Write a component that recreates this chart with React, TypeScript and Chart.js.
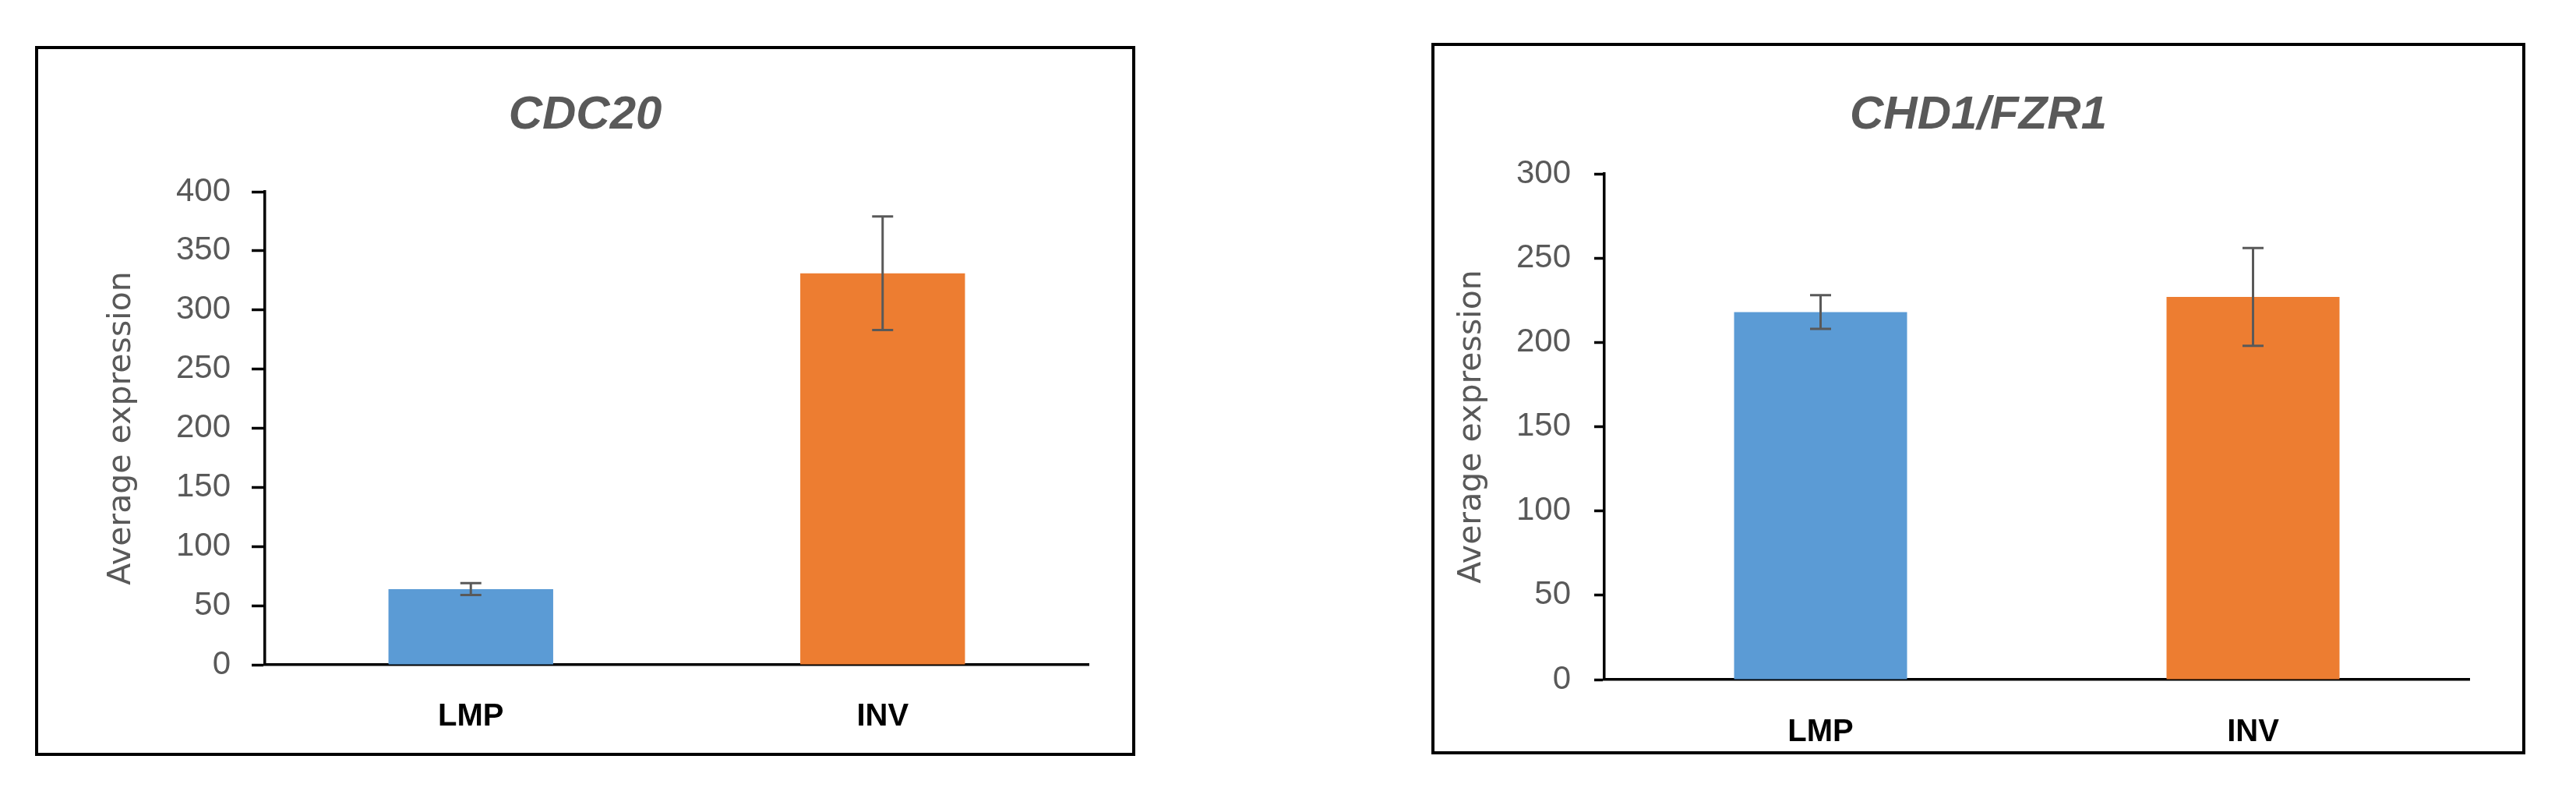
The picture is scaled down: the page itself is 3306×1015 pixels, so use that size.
import React, { useEffect, useRef } from "react";
import { Chart, registerables } from "chart.js";

Chart.register(...registerables);

// ---- data ----
const categories = ["LMP", "INV"];
const cdc20Values = [64, 331];
const cdc20Errors = [5, 48];
const fzr1Values = [218, 227];
const fzr1Errors = [10, 29];
const cdc20Axis = { min: 0, max: 400, step: 50 };
const fzr1Axis = { min: 0, max: 300, step: 50 };
const barColors = ["#5B9BD5", "#ED7D31"];
const yAxisTitle = "Average expression";

type Panel = {
  title: string;
  values: number[];
  errors: number[];
  axis: { min: number; max: number; step: number };
  box: { left: number; top: number; width: number; height: number };
  area: { left: number; top: number; right: number; bottom: number };
  titleBaseline: number;
  yTitlePad: number;
  tickLen: number;
  tickPad: number;
  xLabelPad: number;
};

const BORDER = 4;

const panels: Panel[] = [
  {
    title: "CDC20",
    values: cdc20Values,
    errors: cdc20Errors,
    axis: cdc20Axis,
    box: { left: 45, top: 59, width: 1412, height: 911 },
    area: { left: 291, top: 183, right: 1348, bottom: 790 },
    titleBaseline: 102,
    yTitlePad: 83,
    tickLen: 17,
    tickPad: 27,
    xLabelPad: 35,
  },
  {
    title: "CHD1/FZR1",
    values: fzr1Values,
    errors: fzr1Errors,
    axis: fzr1Axis,
    box: { left: 1837, top: 55, width: 1404, height: 913 },
    area: { left: 218, top: 164, right: 1328, bottom: 813 },
    titleBaseline: 106,
    yTitlePad: 24,
    tickLen: 13,
    tickPad: 30,
    xLabelPad: 36,
  },
];

const errorBarPlugin = {
  id: "errorBars",
  afterDatasetsDraw(chart: any, _args: any, opts: any) {
    const { ctx } = chart;
    const yScale = chart.scales.y;
    chart.data.datasets.forEach((ds: any, di: number) => {
      const meta = chart.getDatasetMeta(di);
      meta.data.forEach((bar: any, i: number) => {
        const v = ds.data[i];
        const e = opts.errors[i];
        const x = bar.x;
        const top = yScale.getPixelForValue(v + e);
        const bot = yScale.getPixelForValue(v - e);
        const half = opts.cap / 2;
        ctx.save();
        ctx.strokeStyle = opts.color;
        ctx.lineWidth = opts.width;
        ctx.beginPath();
        ctx.moveTo(x, top);
        ctx.lineTo(x, bot);
        ctx.moveTo(x - half, top);
        ctx.lineTo(x + half, top);
        ctx.moveTo(x - half, bot);
        ctx.lineTo(x + half, bot);
        ctx.stroke();
        ctx.restore();
      });
    });
  },
};

const boxTitlePlugin = {
  id: "boxTitle",
  afterDraw(chart: any, _args: any, opts: any) {
    const { ctx } = chart;
    ctx.save();
    ctx.font = opts.font;
    ctx.fillStyle = opts.color;
    ctx.textAlign = "center";
    ctx.textBaseline = "alphabetic";
    ctx.fillText(opts.text, chart.width / 2, opts.baseline);
    ctx.restore();
  },
};

function BarPanel({ p }: { p: Panel }) {
  const ref = useRef<HTMLCanvasElement | null>(null);
  const W = p.box.width - 2 * BORDER;
  const H = p.box.height - 2 * BORDER;

  useEffect(() => {
    if (!ref.current) return;
    const chart = new Chart(ref.current, {
      type: "bar",
      data: {
        labels: categories,
        datasets: [
          {
            data: p.values,
            backgroundColor: barColors,
            borderWidth: 0,
            barPercentage: 0.4,
            categoryPercentage: 1.0,
          },
        ],
      },
      options: {
        responsive: false,
        animation: false,
        layout: {
          padding: { left: 0, top: p.area.top, right: W - p.area.right, bottom: 0 },
        },
        plugins: {
          legend: { display: false },
          title: { display: false },
          tooltip: { enabled: false },
          errorBars: { errors: p.errors, color: "#595959", width: 3, cap: 27 },
          boxTitle: {
            text: p.title,
            font: "italic bold 60px 'Liberation Sans'",
            color: "#595959",
            baseline: p.titleBaseline,
          },
        } as any,
        scales: {
          x: {
            offset: true,
            grid: { display: false },
            border: { display: true, color: "#000000", width: 3.5 },
            ticks: {
              color: "#000000",
              padding: p.xLabelPad,
              font: { family: "'Liberation Sans'", size: 40, weight: "bold" },
            },
            afterFit: (scale: any) => {
              scale.height = H - p.area.bottom;
            },
          },
          y: {
            min: p.axis.min,
            max: p.axis.max,
            border: { display: true, color: "#000000", width: 3.5 },
            grid: {
              display: true,
              drawOnChartArea: false,
              drawTicks: true,
              tickLength: p.tickLen,
              tickWidth: 3.5,
              tickColor: "#000000",
            },
            ticks: {
              stepSize: p.axis.step,
              color: "#595959",
              padding: p.tickPad,
              autoSkip: false,
              font: { family: "'Liberation Sans'", size: 42 },
            },
            title: {
              display: true,
              text: yAxisTitle,
              color: "#595959",
              font: { family: "'DejaVu Sans'", size: 41 },
              padding: { top: p.yTitlePad, bottom: 0 },
            },
            afterFit: (scale: any) => {
              scale.width = p.area.left;
            },
          },
        },
      },
      plugins: [errorBarPlugin as any, boxTitlePlugin as any],
    });
    return () => chart.destroy();
  }, []);

  return (
    <div
      style={{
        position: "absolute",
        left: p.box.left,
        top: p.box.top,
        width: W,
        height: H,
        border: `${BORDER}px solid #000`,
        background: "#fff",
      }}
    >
      <canvas ref={ref} width={W} height={H} style={{ display: "block", width: W, height: H }} />
    </div>
  );
}

export default function App() {
  return (
    <div
      style={{
        position: "absolute",
        left: 0,
        top: 0,
        width: 3306,
        height: 1015,
        background: "#ffffff",
        overflow: "hidden",
      }}
    >
      {panels.map((p) => (
        <BarPanel key={p.title} p={p} />
      ))}
    </div>
  );
}
